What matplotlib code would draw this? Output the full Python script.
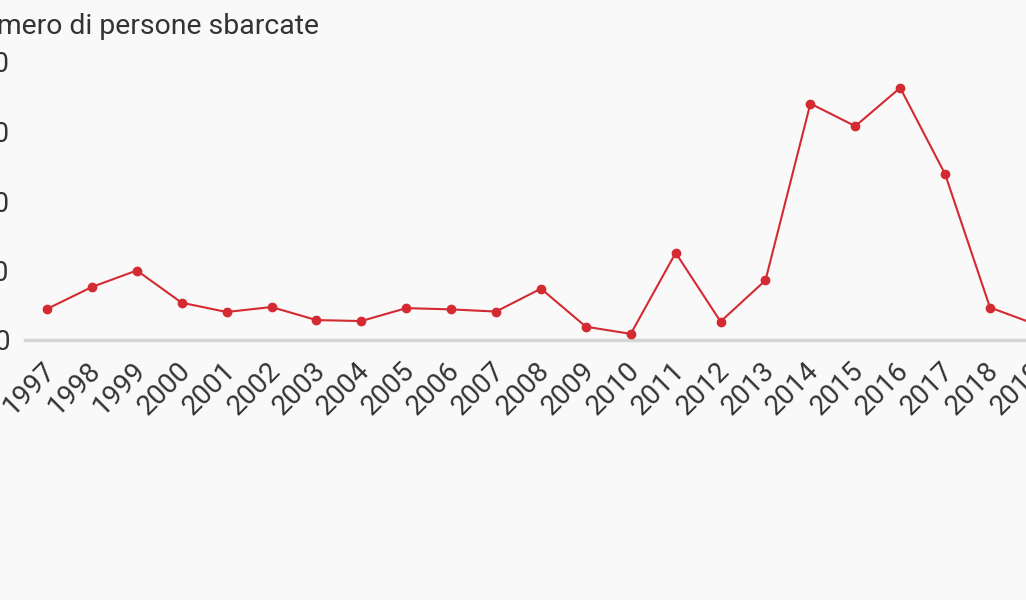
import matplotlib
matplotlib.use("Agg")
import matplotlib.pyplot as plt
import matplotlib.transforms as mtransforms
from matplotlib.ticker import FuncFormatter

years = list(range(1997, 2020))
sbarchi = [22343, 38134, 49999, 26817, 20143, 23719, 14331, 13635, 22939, 22016,
           20455, 36951, 9573, 4406, 62692, 13267, 42925, 170100, 153842, 181436,
           119369, 23370, 11471]
y_ticks = [0, 50000, 100000, 150000, 200000]
title = "Numero di persone sbarcate"

plt.rcParams['font.family'] = ['Roboto', 'DejaVu Sans']
W, H = 1026, 600
fig = plt.figure(figsize=(W / 100, H / 100), dpi=100)
bg = "#f9f9f9"
fig.patch.set_facecolor(bg)

px_per_year = (990 - 47) / 21.0
left_px, right_px = 25, 1080
x0 = 1997 - (47 - left_px) / px_per_year
x1 = 1997 + (right_px - 47) / px_per_year
ax = fig.add_axes([left_px / W, (H - 340) / H, (right_px - left_px) / W, (340 - 62) / H])
ax.set_facecolor(bg)
ax.set_xlim(x0, x1)
ax.set_ylim(0, 200000)

red = "#d42a31"
ax.plot(years, sbarchi, color=red, lw=1.5, marker="o", ms=6, mec=red, mfc=red, clip_on=False, zorder=3)

for s in ["top", "right", "left"]:
    ax.spines[s].set_visible(False)
ax.spines["bottom"].set_color("#d4d4d4")
ax.spines["bottom"].set_linewidth(2.5)

ax.set_yticks(y_ticks)
ax.yaxis.set_major_formatter(FuncFormatter(lambda v, p: f"{int(v):,}".replace(",", ".")))
ax.set_xticks(years)
ax.set_xticklabels([str(y) for y in years], rotation=45, ha="right", rotation_mode="anchor")
ax.tick_params(axis="both", length=0, colors="#333333", labelsize=20)
ax.tick_params(axis="y", pad=11)
ax.tick_params(axis="x", pad=12)
offset = mtransforms.ScaledTranslation(-5 / 100, 0, fig.dpi_scale_trans)
for lab in ax.get_xticklabels():
    lab.set_transform(lab.get_transform() + offset)

fig.text(319 / W, 1 - 27 / H, title, ha="right", va="center", fontsize=20.4, color="#333333")

fig.savefig("out.png", dpi=100, facecolor=bg)
